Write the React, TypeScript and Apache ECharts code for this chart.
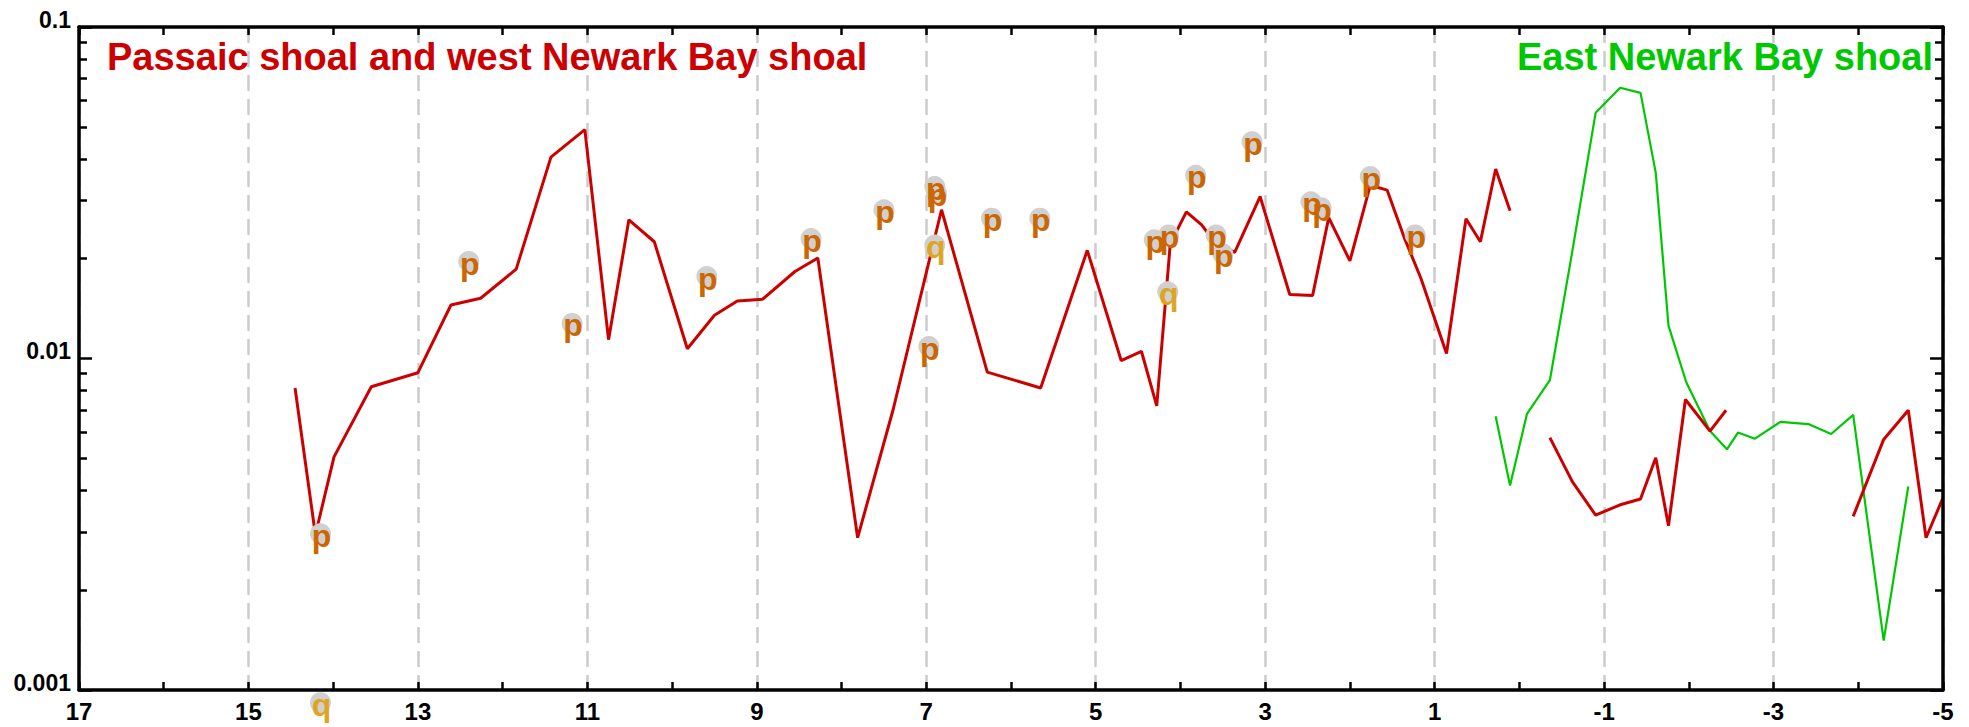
import React, { useEffect, useRef } from 'react';
import * as echarts from 'echarts';

const FONT = '"Liberation Sans", Arial, Helvetica, sans-serif';

const xTickLabels = [17, 15, 13, 11, 9, 7, 5, 3, 1, -1, -3, -5];
const yTickLabels = [0.001, 0.01, 0.1];
const yMinorTicks = [0.002, 0.003, 0.004, 0.005, 0.006, 0.007, 0.008, 0.009, 0.02, 0.03, 0.04, 0.05, 0.06, 0.07, 0.08, 0.09];

const redSegment1: [number, number][] = [
  [14.45, 0.00815], [14.21, 0.00294], [13.99, 0.00505], [13.55, 0.00822], [13.0, 0.00906],
  [12.61, 0.0145], [12.26, 0.0152], [11.84, 0.0186], [11.43, 0.0405], [11.03, 0.049],
  [10.75, 0.0114], [10.51, 0.0262], [10.21, 0.0225], [9.82, 0.0107], [9.5, 0.0135],
  [9.23, 0.0149], [8.93, 0.0151], [8.55, 0.0183], [8.28, 0.0201], [7.81, 0.00288],
  [7.39, 0.00703], [6.82, 0.0281], [6.28, 0.0091], [5.65, 0.00815], [5.1, 0.0212],
  [4.7, 0.00986], [4.46, 0.0105], [4.28, 0.0072], [4.12, 0.0222], [3.93, 0.0277],
  [3.75, 0.0253], [3.6, 0.0225], [3.36, 0.0209], [3.06, 0.0308], [2.71, 0.0156],
  [2.44, 0.0155], [2.25, 0.0266], [2.0, 0.0197], [1.76, 0.0333], [1.56, 0.0322],
  [1.36, 0.0232], [1.16, 0.0174], [0.86, 0.01035], [0.63, 0.0264], [0.46, 0.0225],
  [0.28, 0.0373], [0.11, 0.0279],
];
const redSegment2: [number, number][] = [
  [-0.36, 0.00577], [-0.625, 0.00425], [-0.9, 0.00337], [-1.19, 0.00362], [-1.43, 0.00377],
  [-1.61, 0.00502], [-1.76, 0.00313], [-1.96, 0.00752], [-2.25, 0.00604], [-2.44, 0.00698],
];
const redSegment3: [number, number][] = [
  [-3.94, 0.00334], [-4.3, 0.0057], [-4.59, 0.00698], [-4.8, 0.00288], [-5.0, 0.0038],
];
const greenLine: [number, number][] = [
  [0.28, 0.0067], [0.11, 0.00414], [-0.09, 0.00681], [-0.36, 0.0086], [-0.62, 0.0207],
  [-0.9, 0.0551], [-1.19, 0.0656], [-1.43, 0.0633], [-1.61, 0.0363], [-1.76, 0.01256],
  [-1.97, 0.00848], [-2.25, 0.00604], [-2.45, 0.00532], [-2.58, 0.00598], [-2.78, 0.00573],
  [-3.08, 0.00644], [-3.41, 0.00634], [-3.68, 0.00592], [-3.94, 0.00676], [-4.3, 0.00141],
  [-4.59, 0.00411],
];
const pPoints: [number, number][] = [
  [14.15, 0.00296], [12.4, 0.0196], [11.18, 0.01276], [9.59, 0.01766], [8.36, 0.023],
  [7.5, 0.0281], [6.9, 0.033], [6.88, 0.0315], [6.97, 0.01086], [6.23, 0.0265],
  [5.66, 0.0265], [4.31, 0.0228], [4.14, 0.0236], [3.82, 0.0357], [3.58, 0.0236],
  [3.5, 0.0207], [3.155, 0.0451], [2.46, 0.0297], [2.34, 0.0285], [1.76, 0.0354],
  [1.23, 0.0236],
];
const qPoints: [number, number][] = [
  [14.15, 0.000916], [6.9, 0.022], [4.15, 0.0159],
];

const RED = '#CC0000';
const GREEN = '#00C800';
const P_COLOR = '#CC6600';
const Q_COLOR = '#DFA520';
const CIRCLE = '#D0D0D0';

function fmtY(v: number) {
  const r = Number(v.toPrecision(3));
  return yTickLabels.some((t) => Math.abs(t - r) < 1e-9) ? String(r) : '';
}

export default function App() {
  const ref = useRef<HTMLDivElement>(null);
  useEffect(() => {
    document.body.style.margin = '0';
    const chart = echarts.init(ref.current!, undefined, { renderer: 'svg' });
    const axisLine = { show: true, onZero: false, lineStyle: { color: '#000', width: 3.5 } };
    const baseX = {
      type: 'value' as const,
      min: -5,
      max: 17,
      inverse: true,
      axisLine,
    };
    const baseY = {
      type: 'log' as const,
      logBase: 10,
      min: 0.001,
      max: 0.1,
      axisLine,
      splitLine: { show: false },
    };
    const minorY = {
      type: 'value' as const,
      min: -3,
      max: -1,
      axisLine: { show: false, onZero: false },
      splitLine: { show: false },
      axisLabel: { show: false },
      axisTick: {
        show: true,
        inside: true,
        length: 8,
        lineStyle: { color: '#000', width: 2.5 },
        customValues: yMinorTicks.map((v) => Math.log10(v)),
      },
    };
    const scatterLabel = (letter: string, color: string) => ({
      show: true,
      position: 'inside' as const,
      formatter: letter,
      color,
      fontSize: 32,
      fontWeight: 'bold' as const,
      fontFamily: FONT,
      offset: [1, 2],
    });
    chart.setOption({
      animation: false,
      backgroundColor: '#fff',
      textStyle: { fontFamily: FONT },
      title: [
        {
          text: 'Passaic shoal and west Newark Bay shoal',
          left: 107,
          top: 38,
          padding: 0,
          textStyle: { color: RED, fontSize: 38, fontWeight: 'bold', fontFamily: FONT },
        },
        {
          text: 'East Newark Bay shoal',
          right: 36,
          top: 38,
          padding: 0,
          textStyle: { color: GREEN, fontSize: 38, fontWeight: 'bold', fontFamily: FONT },
        },
      ],
      grid: { left: 79, right: 26, top: 27, bottom: 37, containLabel: false, outerBoundsMode: 'none' },
      xAxis: [
        {
          ...baseX,
          position: 'bottom',
          interval: 1,
          axisTick: { show: true, inside: true, length: 8, lineStyle: { color: '#000', width: 2.5 } },
          axisLabel: {
            show: true,
            margin: 9,
            color: '#000',
            fontSize: 24,
            fontWeight: 'bold',
            fontFamily: FONT,
            formatter: (v: number) => (xTickLabels.includes(v) ? String(v) : ''),
            showMinLabel: true,
            showMaxLabel: true,
          },
          splitLine: { show: false },
          z: 10,
        },
        {
          ...baseX,
          position: 'top',
          interval: 1,
          axisTick: { show: true, inside: true, length: 8, lineStyle: { color: '#000', width: 2.5 } },
          axisLabel: { show: false },
          splitLine: { show: false },
          z: 10,
        },
        {
          ...baseX,
          position: 'bottom',
          interval: 2,
          axisLine: { show: false, onZero: false },
          axisTick: { show: false },
          axisLabel: { show: false },
          splitLine: { show: true, lineStyle: { color: '#CCCCCC', width: 2.5, type: [16, 8] } },
          z: 0,
        },
      ],
      yAxis: [
        {
          ...baseY,
          position: 'left',
          axisTick: { show: true, inside: true, length: 13, lineStyle: { color: '#000', width: 2.5 } },
          axisLabel: {
            show: true,
            margin: 8,
            color: '#000',
            fontSize: 23,
            fontWeight: 'bold',
            fontFamily: FONT,
            verticalAlign: 'bottom',
            lineHeight: 15,
            formatter: fmtY,
          },
          z: 10,
        },
        {
          ...baseY,
          position: 'right',
          axisTick: { show: true, inside: true, length: 13, lineStyle: { color: '#000', width: 2.5 } },
          axisLabel: { show: false },
          z: 10,
        },
        { ...minorY, position: 'left', z: 10 },
        { ...minorY, position: 'right', z: 10 },
      ],
      series: [
        {
          type: 'line',
          data: greenLine,
          showSymbol: false,
          lineStyle: { color: GREEN, width: 2.2 },
          itemStyle: { color: GREEN },
          z: 2,
        },
        ...[redSegment1, redSegment2, redSegment3].map((seg) => ({
          type: 'line',
          data: seg,
          showSymbol: false,
          lineStyle: { color: RED, width: 3 },
          itemStyle: { color: RED },
          z: 3,
        })),
        {
          type: 'scatter',
          data: pPoints,
          symbol: 'circle',
          symbolSize: 21,
          clip: false,
          itemStyle: { color: CIRCLE, opacity: 1 },
          label: scatterLabel('p', P_COLOR),
          z: 5,
        },
        {
          type: 'scatter',
          data: qPoints,
          symbol: 'circle',
          symbolSize: 21,
          clip: false,
          itemStyle: { color: CIRCLE, opacity: 1 },
          label: scatterLabel('q', Q_COLOR),
          z: 5,
        },
      ],
    });
    return () => chart.dispose();
  }, []);
  return <div ref={ref} style={{ width: 1969, height: 727 }} />;
}
